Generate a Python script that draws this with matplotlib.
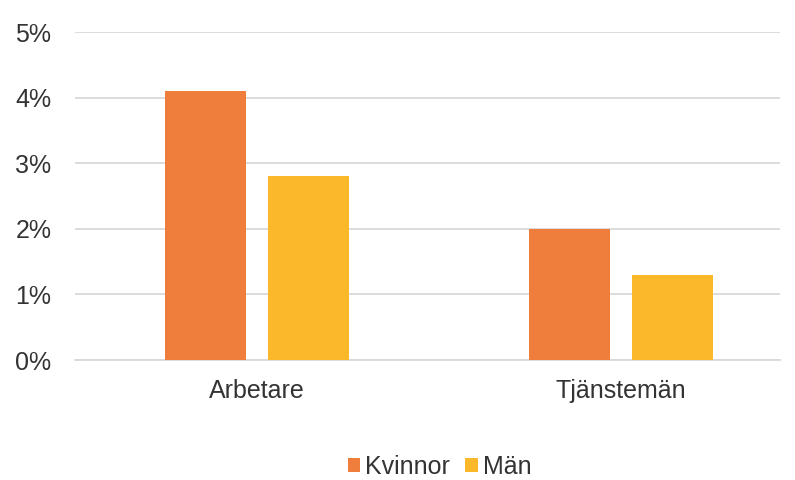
import matplotlib
matplotlib.use("Agg")
import matplotlib.pyplot as plt
import numpy as np
from matplotlib.ticker import PercentFormatter

plt.rcParams['font.family'] = ['Liberation Sans', 'DejaVu Sans']

categories = ["Arbetare", "Tjänstemän"]
series_names = ["Kvinnor", "Män"]
kvinnor = [4.1, 2.0]
man = [2.8, 1.3]
yticks = [0, 1, 2, 3, 4, 5]

colors = ["#EF7D3B", "#FBB82A"]

fig = plt.figure(figsize=(7.95, 4.8), dpi=100)
ax = fig.add_axes([75 / 795, 0.25, 705 / 795, 0.683])

x = np.arange(len(categories))
w = 0.223
gap = 0.06
ax.bar(x - (w + gap) / 2, kvinnor, width=w, color=colors[0], label=series_names[0], zorder=3)
ax.bar(x + (w + gap) / 2, man, width=w, color=colors[1], label=series_names[1], zorder=3)

ax.set_xlim(-0.5, 1.437)
ax.set_ylim(0, 5)
ax.set_yticks(yticks)
ax.yaxis.set_major_formatter(PercentFormatter(decimals=0))
ax.set_xticks(x)
ax.set_xticklabels(categories)
ax.tick_params(axis="both", length=0, labelsize=18, colors="#333333")
ax.tick_params(axis="x", pad=14)
ax.tick_params(axis="y", pad=17)

ax.grid(axis="y", color="#d9d9d9", linewidth=1.3, zorder=0)
for s in ["top", "right", "left"]:
    ax.spines[s].set_visible(False)
ax.spines["bottom"].set_color("#d9d9d9")
ax.spines["bottom"].set_linewidth(1.3)

fig.legend(loc="center", bbox_to_anchor=(0.553, 0.027), ncol=2, frameon=False,
           fontsize=18, handlelength=0.5, handleheight=0.5, handletextpad=0.2,
           columnspacing=0.6, labelcolor="#333333")

fig.savefig("out.png", dpi=100)
